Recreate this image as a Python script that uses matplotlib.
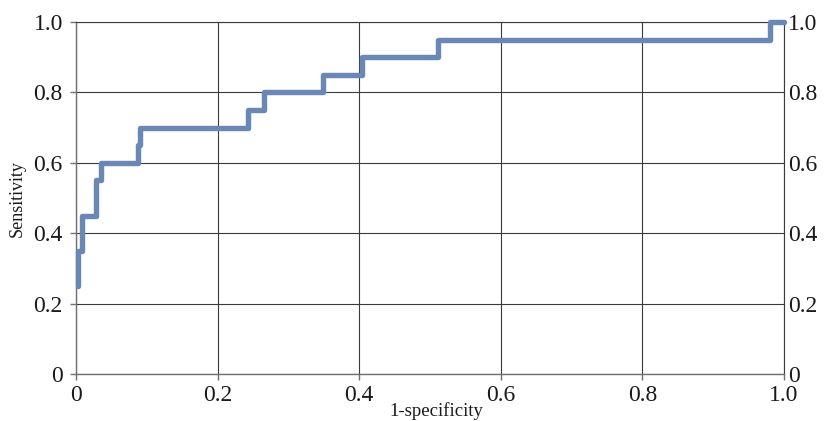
import matplotlib
matplotlib.use("Agg")
import matplotlib.pyplot as plt

plt.rcParams['font.family'] = ['Liberation Serif', 'DejaVu Serif']

fpr = [0.003, 0.003, 0.0085, 0.0085, 0.028, 0.028, 0.036, 0.036, 0.087, 0.087,
       0.091, 0.091, 0.243, 0.243, 0.265, 0.265, 0.349, 0.349, 0.404, 0.404,
       0.512, 0.512, 0.980, 0.980, 1.0]
tpr = [0.25, 0.35, 0.35, 0.45, 0.45, 0.55, 0.55, 0.60, 0.60, 0.65,
       0.65, 0.70, 0.70, 0.75, 0.75, 0.80, 0.80, 0.85, 0.85, 0.90,
       0.90, 0.95, 0.95, 1.0, 1.0]
ticks = [0, 0.2, 0.4, 0.6, 0.8, 1.0]
tick_labels = ["0", "0.2", "0.4", "0.6", "0.8", "1.0"]

fig = plt.figure(figsize=(8.28, 4.21), dpi=100)
ax = fig.add_axes([76/828, 47/421, 708/828, 352/421])

ax.plot(fpr, tpr, color='#6b87b4', lw=3.9, solid_capstyle='round',
        solid_joinstyle='round', clip_on=False, zorder=5)

ax.set_xlim(0, 1)
ax.set_ylim(0, 1)
ax.set_xticks(ticks)
ax.set_xticklabels(tick_labels)
ax.set_yticks(ticks)
ax.set_yticklabels(tick_labels)
ax.grid(True, color='#3a3a3a', lw=0.8)
for s in ax.spines.values():
    s.set_color('#707070')
    s.set_linewidth(1.0)
ax.spines['top'].set_color('#3a3a3a')
ax.spines['right'].set_color('#3a3a3a')
ax.spines['top'].set_linewidth(0.8)
ax.spines['right'].set_linewidth(0.8)
ax.tick_params(axis='both', direction='out', length=4.5, width=1.0,
               color='#707070', labelsize=17, labelcolor='#1a1a1a')
ax.tick_params(axis='y', pad=5)
ax.tick_params(axis='x', pad=3.5)

ax2 = ax.twinx()
ax2.set_ylim(0, 1)
ax2.set_yticks(ticks)
ax2.set_yticklabels(tick_labels)
ax2.tick_params(axis='y', length=0, pad=3, labelsize=17, labelcolor='#1a1a1a')
for s in ax2.spines.values():
    s.set_visible(False)

ax.set_xlabel('1-specificity', fontsize=13.5, color='#1a1a1a')
ax.xaxis.set_label_coords(0.509, -0.130)
ax.xaxis.label.set_va('bottom')
ax.set_ylabel('Sensitivity', fontsize=13, color='#1a1a1a')
ax.yaxis.set_label_coords(-0.083, 0.497)
ax.yaxis.label.set_va('center')

fig.savefig('out.png', dpi=100)
